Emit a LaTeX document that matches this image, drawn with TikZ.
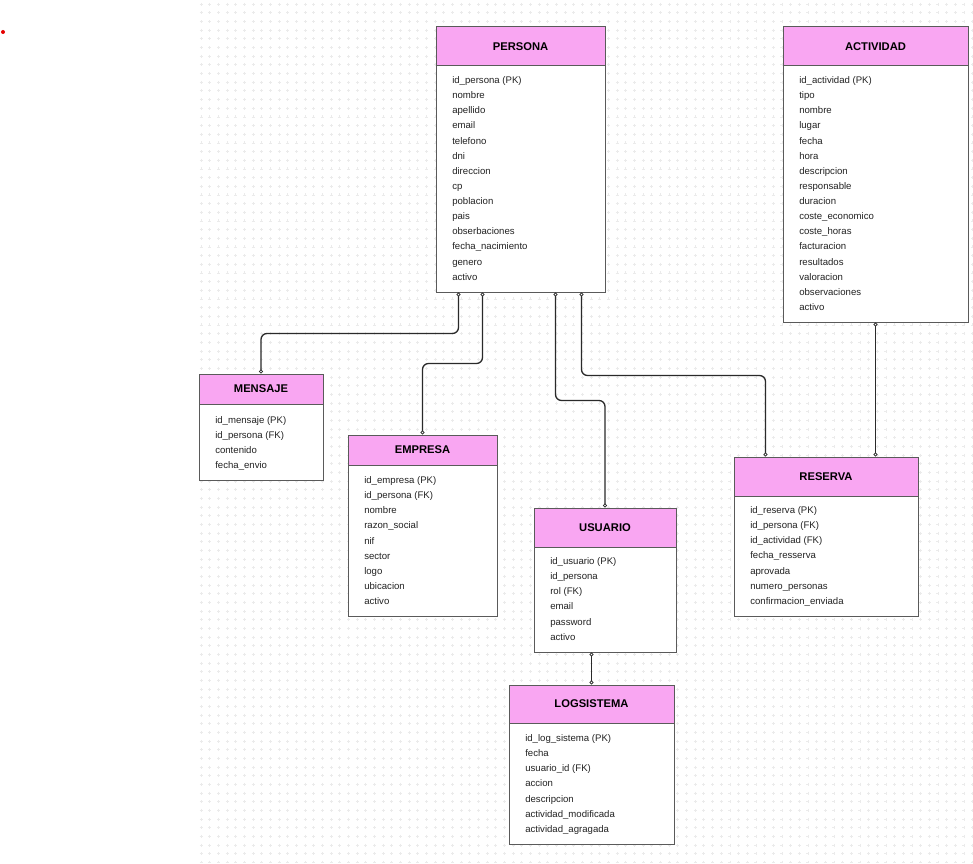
\documentclass[tikz,border=0pt]{standalone}
\usepackage{fontspec}
\setmainfont{Liberation Sans}
\usetikzlibrary{fit,calc,arrows.meta}
\definecolor{hdrpink}{HTML}{F9A6F2}
\definecolor{boxline}{HTML}{5A5A5A}
\definecolor{gridc}{HTML}{EBEBEB}
\definecolor{conncol}{HTML}{2A2A2A}
\definecolor{txtc}{HTML}{222222}
\tikzset{
  hdr/.style={draw=boxline, fill=hdrpink, inner sep=0pt, line width=0.75pt},
  hdrtxt/.style={inner sep=0pt, font=\fontsize{8.4}{10}\selectfont\bfseries, text=black},
  bodybox/.style={draw=boxline, fill=white, inner sep=0pt, line width=0.75pt},
  row/.style={inner sep=0pt, anchor=base west, font=\fontsize{7.2}{9}\selectfont, text=txtc},
  conn/.style={draw=conncol, line width=1pt, rounded corners=4.5pt,
    {Circle[open,length=3pt,fill=white,line width=0.6pt]}-{Circle[open,length=3pt,fill=white,line width=0.6pt]}},
}
\newcommand\ertable[9]{%
  \node[hdr, fit={(#2,#3) (#4,#5)}] (#1-h) {};
  \node[hdrtxt] (#1-t) at (#1-h.center) {#7};
  \node[bodybox, fit={(#2,#5) (#4,#6)}] (#1) {};
  \foreach \rw [count=\i] in {#9}
    \node[row] (#1-r\i) at ({#2+16},{#8+3.5+(\i-1)*15.13}) {\rw};
}
\begin{document}
\begin{tikzpicture}[x=0.75pt,y=-0.75pt]
\useasboundingbox (0,0) rectangle (973,863);
\fill[white] (0,0) rectangle (973,863);
% dotted grid of small crosses
\foreach \k in {0,...,99}
  \draw[gridc, line width=0.75pt, dash pattern=on 2.25pt off 4.25pt]
    (199.8,{4.33+\k*8.667}) -- (973,{4.33+\k*8.667});
\foreach \k in {0,...,89}
  \draw[gridc, line width=0.75pt, dash pattern=on 2.25pt off 4.25pt]
    ({201.3+\k*8.667},2.83) -- ({201.3+\k*8.667},863);
% red dot
\fill[red!90!black] (3,32) circle (2);

\ertable{persona}{436}{27}{605}{66}{292}{PERSONA}{80}{id\_persona (PK),nombre,apellido,email,telefono,dni,direccion,cp,poblacion,pais,obserbaciones,fecha\_nacimiento,genero,activo}
\ertable{actividad}{783}{27}{968}{66}{322}{ACTIVIDAD}{80}{id\_actividad (PK),tipo,nombre,lugar,fecha,hora,descripcion,responsable,duracion,coste\_economico,coste\_horas,facturacion,resultados,valoracion,observaciones,activo}
\ertable{mensaje}{199}{374}{323}{404}{480}{MENSAJE}{420}{id\_mensaje (PK),id\_persona (FK),contenido,fecha\_envio}
\ertable{empresa}{348}{435}{497}{465}{616}{EMPRESA}{480}{id\_empresa (PK),id\_persona (FK),nombre,razon\_social,nif,sector,logo,ubicacion,activo}
\ertable{usuario}{534}{508}{676}{547}{652}{USUARIO}{561}{id\_usuario (PK),id\_persona,rol (FK),email,password,activo}
\ertable{logsistema}{509}{685}{674}{723}{844}{LOGSISTEMA}{738}{id\_log\_sistema (PK),fecha,usuario\_id (FK),accion,descripcion,actividad\_modificada,actividad\_agragada}
\ertable{reserva}{734}{457}{918}{496}{616}{RESERVA}{510}{id\_reserva (PK),id\_persona (FK),id\_actividad (FK),fecha\_resserva,aprovada,numero\_personas,confirmacion\_enviada}

% connectors
\draw[conn] ($(persona.south west)+(23,0)$) -- ++(0,41) -| (mensaje-h.north);
\draw[conn] ($(persona.south west)+(47,0)$) -- ++(0,71) -| (empresa-h.north);
\draw[conn] ($(persona.south west)+(120,0)$) -- ++(0,108) -| (usuario-h.north);
\draw[conn] ($(persona.south west)+(146,0)$) -- ++(0,83) -| ($(reserva-h.north west)+(32,0)$);
\draw[conn] (actividad.south) -- (actividad.south |- reserva-h.north);
\draw[conn] (logsistema-h.north |- usuario.south) -- (logsistema-h.north);
\end{tikzpicture}
\end{document}
